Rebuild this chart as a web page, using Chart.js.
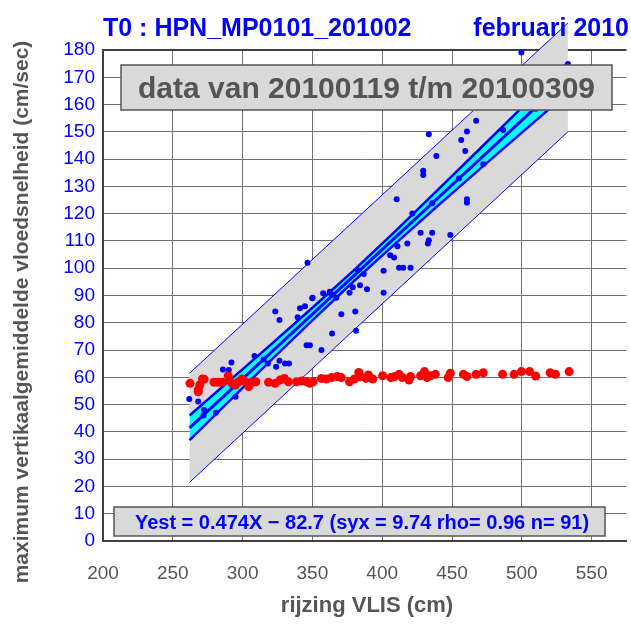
<!DOCTYPE html>
<html>
<head>
<meta charset="utf-8">
<script src="https://cdn.jsdelivr.net/npm/chart.js@4.4.0/dist/chart.umd.min.js"></script>
<style>
  html, body { margin: 0; padding: 0; background: #fff; }
</style>
</head>
<body>
<canvas id="chart" width="631" height="626"></canvas>
<script>
// measured points (blue = vloedsnelheid, red = second series)
const blueX = [323.4, 326.4, 349.9, 357.7, 344.7, 341.1, 339.4, 364.1, 345.8, 348.2, 356.5, 308.5, 318.1, 326.4, 330.4,
  333.2, 324.0, 285.9, 290.1, 292.0, 261.8, 268.2, 295.0, 272.4, 280.8,
  429.4, 429.4, 410.4, 421.6, 427.5, 435.8, 433.4, 432.7, 418.0, 410.9, 405.7, 408.5, 346.5, 401.0, 412.1,
  415.1, 420.3, 386.8, 384.1, 378.9, 389.1, 376.6, 401.0, 363.6, 367.1, 350.1, 370.7, 380.7, 381.3,
  499.7, 467.3, 460.7, 456.6, 459.5, 433.4, 438.8, 472.4, 460.7, 460.7, 448.8, 486.6, 533.1,
  382.5, 362.4, 435.8, 272.0, 300.0, 315.0, 455.0, 510.0];
const blueY = [84.1, 81.0, 89.0, 90.8, 86.1, 85.3, 82.0, 76.1, 71.8, 71.8, 70.0, 67.8, 65.1, 66.1, 65.1,
  65.1, 63.9, 62.9, 62.7, 65.4, 52.1, 51.1, 52.9, 48.0, 47.0,
  135.7, 134.2, 125.3, 120.1, 113.0, 113.0, 110.3, 109.1, 109.1, 108.1, 104.8, 103.9, 102.0, 99.1, 100.2,
  100.2, 100.2, 97.9, 93.8, 93.0, 92.3, 91.0, 91.0, 90.4, 89.2, 89.2, 83.1, 84.1, 77.1,
  179.1, 154.1, 150.1, 147.0, 143.0, 149.1, 141.1, 138.1, 125.3, 124.0, 112.2, 150.7, 174.9,
  99.3, 91.4, 123.8, 46.0, 59.0, 66.5, 133.0, 158.5];

const redX = [262.3, 269.3, 268.3, 271.2, 268.2, 272.4, 279.5, 282.5, 285.4, 289.7, 290.6, 292.5, 294.9, 297.3,
  299.6, 302.1, 304.4, 306.7, 309.5, 318.6, 323.3, 326.8, 329.9, 332.8, 338.7, 342.3, 345.8, 348.2, 350.6,
  356.5, 360.0, 363.6, 367.8, 370.7, 376.6, 380.1, 383.2, 384.4, 388.4, 393.2, 390.1, 400.3, 406.2, 409.0,
  412.1, 414.5, 419.2, 420.3, 427.5, 430.3, 432.2, 434.6, 438.1, 447.2, 448.8, 458.2, 460.7, 467.3, 472.4,
  486.2, 494.5, 499.7, 505.6, 509.9, 520.3, 524.1, 533.9];
const redY = [57.8, 57.2, 55.4, 59.4, 54.7, 59.3, 58.2, 58.2, 58.2, 60.6, 59.0, 57.8, 57.2, 58.4,
  59.4, 58.4, 56.6, 58.2, 58.4, 58.2, 57.8, 59.0, 59.6, 58.4, 58.4, 58.7, 58.4, 57.8, 58.4,
  59.6, 59.4, 59.9, 60.3, 59.9, 58.4, 59.4, 61.8, 60.2, 59.6, 59.4, 60.9, 60.6, 59.9, 60.3,
  61.1, 59.9, 59.0, 60.3, 60.6, 62.1, 59.9, 60.6, 61.1, 59.9, 61.5, 61.1, 60.3, 61.1, 61.7,
  61.1, 61.1, 62.1, 62.1, 60.5, 61.7, 61.1, 62.1];

// regression line Yest = 0.474X - 82.7 and its bands
const fitX = [262, 533];
const fitY = [41.5, 169.9];
const predUpper = [61.5, 189.9];
const predLower = [21.5, 150.0];
const ciX = [262, 290, 320, 350, 380, 410, 440, 470, 500, 533];
const ciUpper = [46.0, 58.5, 71.9, 85.5, 99.4, 113.9, 128.8, 143.8, 158.9, 175.5];
const ciLower = [37.0, 51.1, 66.1, 80.9, 95.4, 109.3, 123.0, 136.4, 149.7, 164.3];

const xTicks = [200, 250, 300, 350, 400, 450, 500, 550];

const titleLeft = 'T0 : HPN_MP0101_201002';
const titleRight = 'februari 2010';
const periodText = 'data van 20100119 t/m 20100309';
const fitText = 'Yest = 0.474X \u2212 82.7 (syx = 9.74 rho= 0.96 n= 91)';
const xTitle = 'rijzing VLIS (cm)';
const yTitle = 'maximum vertikaalgemiddelde vloedsnelheid (cm/sec)';

const FONT = '"Liberation Sans", Arial, sans-serif';
const BLUE = '#0000ff';
const GREY = '#555555';

function pts(xs, ys) {
  return xs.map((x, i) => ({ x: x, y: ys[i] }));
}

const overlay = {
  id: 'overlay',
  beforeDatasetsDraw(chart) {
    // grey prediction band, allowed to run above the axes like the original
    const up = chart.getDatasetMeta(5).data;
    const lo = chart.getDatasetMeta(6).data;
    const ctx = chart.ctx;
    ctx.save();
    ctx.beginPath();
    ctx.moveTo(up[0].x, up[0].y);
    for (let i = 1; i < up.length; i++) ctx.lineTo(up[i].x, up[i].y);
    for (let i = lo.length - 1; i >= 0; i--) ctx.lineTo(lo[i].x, lo[i].y);
    ctx.closePath();
    ctx.fillStyle = '#d9d9d9';
    ctx.fill();
    ctx.restore();
  },
  afterDatasetsDraw(chart) {
    const ctx = chart.ctx;
    ctx.save();
    ctx.fillStyle = '#d9d9d9';
    ctx.strokeStyle = GREY;
    ctx.lineWidth = 1.5;
    ctx.fillRect(121, 65, 491, 45);
    ctx.strokeRect(121, 65, 491, 45);
    ctx.fillRect(114, 507, 491, 29);
    ctx.strokeRect(114, 507, 491, 29);

    ctx.textAlign = 'center';
    ctx.textBaseline = 'alphabetic';
    ctx.fillStyle = GREY;
    ctx.font = 'bold 30px ' + FONT;
    ctx.fillText(periodText, 366.5, 98);
    ctx.fillStyle = BLUE;
    ctx.font = 'bold 20px ' + FONT;
    ctx.fillText(fitText, 362, 529);
    ctx.restore();
  },
  afterDraw(chart) {
    const ctx = chart.ctx;
    ctx.save();
    ctx.fillStyle = BLUE;
    ctx.font = 'bold 25px ' + FONT;
    ctx.textBaseline = 'alphabetic';
    ctx.textAlign = 'left';
    ctx.fillText(titleLeft, 103, 36);
    ctx.textAlign = 'right';
    ctx.fillText(titleRight, 629, 36);

    ctx.fillStyle = GREY;
    ctx.font = 'bold 22px ' + FONT;
    ctx.textAlign = 'center';
    ctx.textBaseline = 'middle';
    ctx.fillText(xTitle, 367, 606);
    ctx.font = 'bold 21px ' + FONT;
    ctx.translate(22, 312);
    ctx.rotate(-Math.PI / 2);
    ctx.fillText(yTitle, 0, 0);
    ctx.restore();
  }
};

const ctx = document.getElementById('chart').getContext('2d');
new Chart(ctx, {
  type: 'scatter',
  data: {
    datasets: [
      { data: pts(redX, redY), backgroundColor: '#ff0000', borderWidth: 0, pointRadius: 4.5, clip: false },
      { data: pts(blueX, blueY), backgroundColor: BLUE, borderWidth: 0, pointRadius: 3, clip: false },
      { type: 'line', data: pts(fitX, fitY), borderColor: BLUE, borderWidth: 3, pointRadius: 0, fill: false },
      { type: 'line', data: pts(ciX, ciUpper), borderColor: BLUE, borderWidth: 2.5, pointRadius: 0, fill: false },
      { type: 'line', data: pts(ciX, ciLower), borderColor: BLUE, borderWidth: 2.5, pointRadius: 0,
        fill: '-1', backgroundColor: '#00ffff' },
      { type: 'line', data: pts(fitX, predUpper), borderColor: BLUE, borderWidth: 1, pointRadius: 0, fill: false, clip: false },
      { type: 'line', data: pts(fitX, predLower), borderColor: BLUE, borderWidth: 1, pointRadius: 0, fill: false, clip: false }
    ]
  },
  options: {
    responsive: false,
    animation: false,
    events: [],
    layout: { padding: { top: 50, right: 0, bottom: 0, left: 0 } },
    plugins: { legend: { display: false }, tooltip: { enabled: false } },
    scales: {
      x: {
        type: 'linear',
        min: 200,
        max: 575,
        afterBuildTicks: (scale) => { scale.ticks = xTicks.map(v => ({ value: v })); },
        afterFit: (scale) => { scale.height = 85; },
        ticks: { color: GREY, font: { family: FONT, size: 19 }, padding: 21, maxRotation: 0 },
        grid: { color: '#707070', lineWidth: 1, drawTicks: false },
        border: { color: '#404040', width: 2 }
      },
      y: {
        min: 0,
        max: 180,
        ticks: { stepSize: 10, color: BLUE, font: { family: FONT, size: 19 }, padding: 8 },
        afterFit: (scale) => { scale.width = 103; },
        grid: {
          color: (c) => c.tick && c.tick.value === 180 ? '#404040' : '#707070',
          lineWidth: (c) => c.tick && c.tick.value === 180 ? 2 : 1,
          drawTicks: false
        },
        border: { color: '#404040', width: 2 }
      }
    }
  },
  plugins: [overlay]
});
</script>
</body>
</html>
